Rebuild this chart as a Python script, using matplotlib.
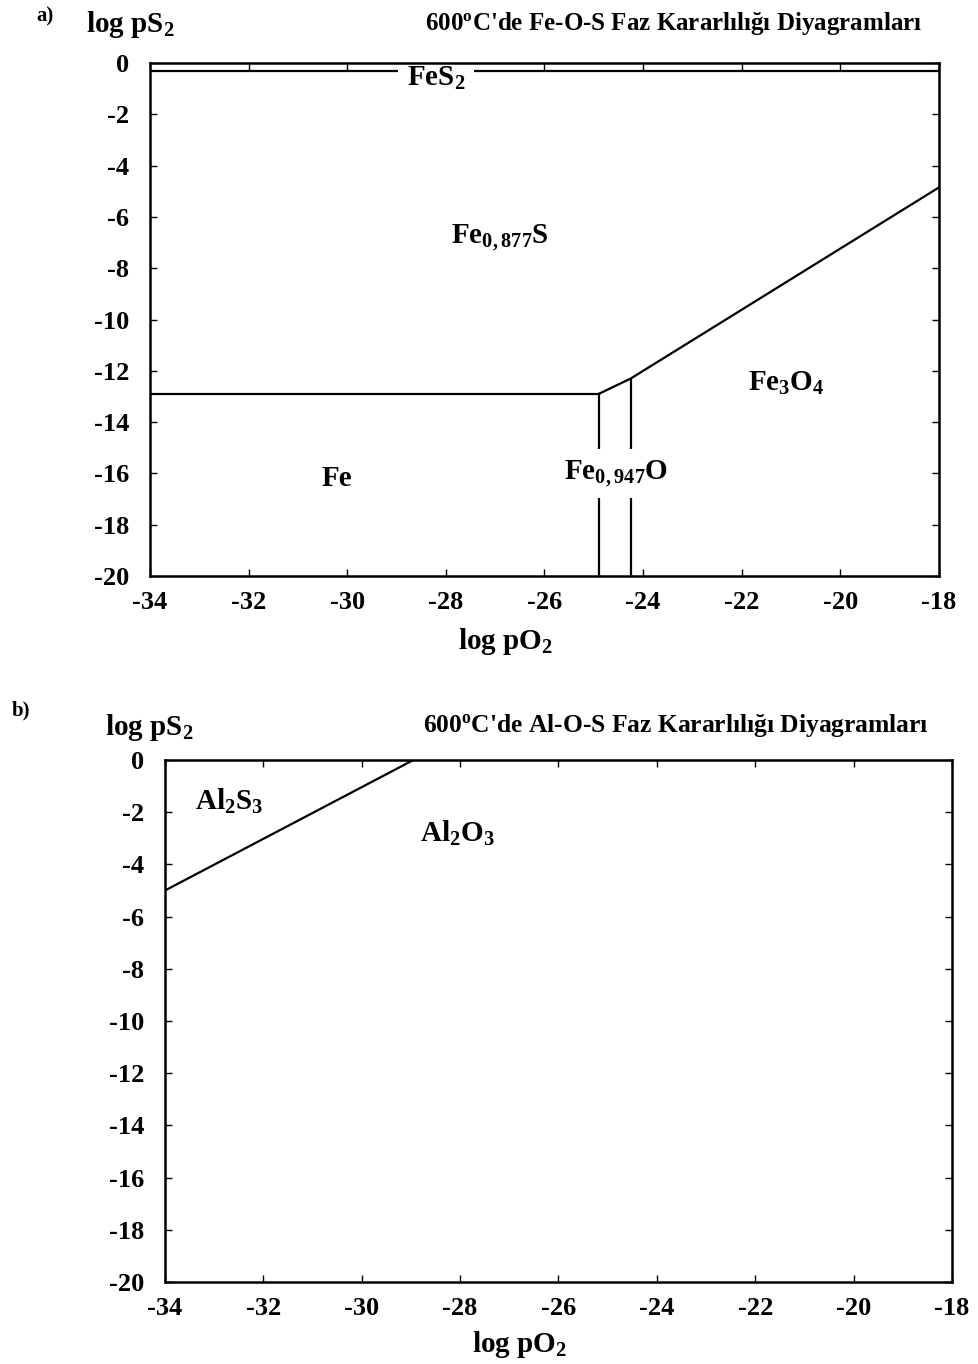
import matplotlib
matplotlib.use("Agg")
import matplotlib.pyplot as plt

plt.rcParams["font.family"] = ["Liberation Serif", "DejaVu Serif"]
plt.rcParams["font.weight"] = "bold"
plt.rcParams["mathtext.fontset"] = "custom"
plt.rcParams["mathtext.rm"] = "Liberation Serif:bold"
plt.rcParams["mathtext.it"] = "Liberation Serif:bold"
plt.rcParams["mathtext.bf"] = "Liberation Serif:bold"

# Fe-O-S boundaries (log pO2, log pS2)
fes2_x = [-34, -18]
fes2_y = [-0.3, -0.3]
fe_fes_x = [-34, -24.9]
fe_fes_y = [-12.9, -12.9]
fes_ox_x = [-24.9, -24.25, -18]
fes_ox_y = [-12.9, -12.3, -4.85]
fe_feo_x = [-24.9, -24.9]
fe_feo_y = [-20, -12.9]
feo_fe3o4_x = [-24.25, -24.25]
feo_fe3o4_y = [-20, -12.3]

# Al-O-S boundary
al_x = [-34, -28.95]
al_y = [-5.0, 0.0]

xticks = list(range(-34, -17, 2))
yticks = list(range(-20, 1, 2))

fig = plt.figure(figsize=(9.79, 13.64), dpi=100)
ax_a = fig.add_axes([0.1532, 0.5777, 0.8059, 0.3761])
ax_b = fig.add_axes([0.1685, 0.0601, 0.8039, 0.3827])

LW = 1.6
LABEL = 21
for ax in (ax_a, ax_b):
    ax.set_xlim(-34, -18)
    ax.set_ylim(-20, 0)
    ax.set_xticks(xticks)
    ax.set_yticks(yticks)
    ax.set_xticklabels([str(t) for t in xticks])
    ax.set_yticklabels([str(t) for t in yticks])
    ax.tick_params(direction="in", length=5, width=1, top=True, right=True,
                   labelsize=19)
    ax.tick_params(axis="x", pad=11)
    ax.tick_params(axis="y", pad=15)
    for lab in ax.get_xticklabels() + ax.get_yticklabels():
        lab.set_fontweight("bold")
    for sp in ax.spines.values():
        sp.set_linewidth(1.8)
    ax.set_xlabel("log pO$_2$", fontsize=LABEL, fontweight="bold")

ax_a.xaxis.set_label_coords(0.45, -0.098)
ax_b.xaxis.set_label_coords(0.451, -0.09)

# panel a
ax_a.plot(fes2_x, fes2_y, color="black", lw=LW)
ax_a.plot(fe_fes_x, fe_fes_y, color="black", lw=LW)
ax_a.plot(fes_ox_x, fes_ox_y, color="black", lw=LW)
ax_a.plot(fe_feo_x, fe_feo_y, color="black", lw=LW)
ax_a.plot(feo_fe3o4_x, feo_fe3o4_y, color="black", lw=LW)

box = dict(facecolor="white", edgecolor="none", pad=6)
ax_a.text(-28.2, -0.6, "FeS$_2$", fontsize=LABEL, ha="center", va="center",
          bbox=box, zorder=2.2)
ax_a.text(-26.9, -6.8, "Fe$_{0,877}$S", fontsize=LABEL, ha="center", va="center")
ax_a.text(-21.1, -12.5, "Fe$_3$O$_4$", fontsize=LABEL, ha="center", va="center")
ax_a.text(-30.2, -16.2, "Fe", fontsize=LABEL, ha="center", va="center")
ax_a.text(-24.55, -16.0, "Fe$_{0,947}$O", fontsize=LABEL, ha="center", va="center",
          bbox=dict(facecolor="white", edgecolor="none", pad=7), zorder=2.2)

# panel b
ax_b.plot(al_x, al_y, color="black", lw=LW)
ax_b.text(-32.7, -1.6, "Al$_2$S$_3$", fontsize=LABEL, ha="center", va="center")
ax_b.text(-28.05, -2.8, "Al$_2$O$_3$", fontsize=LABEL, ha="center", va="center")

# headings
TITLE = 18
fig.text(0.046, 0.988, "a)", fontsize=15, ha="center", va="center")
fig.text(0.133, 0.982, "log pS$_2$", fontsize=LABEL, ha="center", va="center")
fig.text(0.688, 0.983, "600$^{\\rm o}$C'de Fe-O-S Faz Kararlılığı Diyagramları",
         fontsize=TITLE, ha="center", va="center")

fig.text(0.021, 0.479, "b)", fontsize=15, ha="center", va="center")
fig.text(0.152, 0.467, "log pS$_2$", fontsize=LABEL, ha="center", va="center")
fig.text(0.69, 0.468, "600$^{\\rm o}$C'de Al-O-S Faz Kararlılığı Diyagramları",
         fontsize=18.4, ha="center", va="center")

fig.savefig("out.png", dpi=100)
